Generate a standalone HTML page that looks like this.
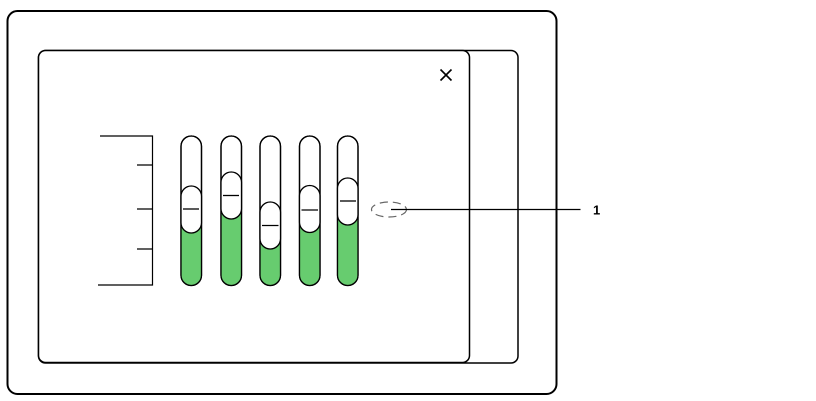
<!DOCTYPE html>
<html><head><meta charset="utf-8"><style>
html,body{margin:0;padding:0;background:#fff;}
svg{display:block;}
</style></head><body>
<svg width="816" height="401" viewBox="0 0 816 401" xmlns="http://www.w3.org/2000/svg">
<rect x="7.5" y="11" width="549" height="383" rx="10" fill="#fff" stroke="#000" stroke-width="2"/>
<rect x="38.5" y="50.5" width="479.5" height="312.5" rx="7" fill="#fff" stroke="#000" stroke-width="1.5"/>
<rect x="38.5" y="50.5" width="431" height="312" rx="7" fill="#fff" stroke="#000" stroke-width="1.5"/>
<path d="M440.5 69.5 L451.5 80.5 M451.5 69.5 L440.5 80.5" stroke="#000" stroke-width="1.6"/>
<g stroke="#000" stroke-width="1.2" fill="none">
<path d="M100 136 H152.5 V285 H98"/>
<path d="M137 165 H152.5 M137 209 H152.5 M137 249 H152.5"/>
</g>
<defs>
<clipPath id="c1"><rect x="181" y="136" width="20.5" height="149.5" rx="10.25"/></clipPath>
<clipPath id="c2"><rect x="221" y="136" width="20.5" height="149.5" rx="10.25"/></clipPath>
<clipPath id="c3"><rect x="260" y="136" width="20.5" height="149.5" rx="10.25"/></clipPath>
<clipPath id="c4"><rect x="299.5" y="136" width="20.5" height="149.5" rx="10.25"/></clipPath>
<clipPath id="c5"><rect x="337.5" y="136" width="20.5" height="149.5" rx="10.25"/></clipPath>
</defs>
<g stroke="#000" stroke-width="1.3">
<rect x="181" y="136" width="20.5" height="149.5" rx="10.25" fill="#fff"/>
<rect x="181" y="222" width="20.5" height="70" fill="#67cc6f" stroke="none" clip-path="url(#c1)"/>
<rect x="181" y="136" width="20.5" height="149.5" rx="10.25" fill="none"/>
<rect x="181" y="186" width="20.5" height="47" rx="10.25" fill="#fff"/>
<line x1="183" y1="209" x2="199" y2="209"/>

<rect x="221" y="136" width="20.5" height="149.5" rx="10.25" fill="#fff"/>
<rect x="221" y="208" width="20.5" height="80" fill="#67cc6f" stroke="none" clip-path="url(#c2)"/>
<rect x="221" y="136" width="20.5" height="149.5" rx="10.25" fill="none"/>
<rect x="221" y="172" width="20.5" height="47" rx="10.25" fill="#fff"/>
<line x1="223" y1="195.5" x2="239" y2="195.5"/>

<rect x="260" y="136" width="20.5" height="149.5" rx="10.25" fill="#fff"/>
<rect x="260" y="238" width="20.5" height="60" fill="#67cc6f" stroke="none" clip-path="url(#c3)"/>
<rect x="260" y="136" width="20.5" height="149.5" rx="10.25" fill="none"/>
<rect x="260" y="202" width="20.5" height="47" rx="10.25" fill="#fff"/>
<line x1="262" y1="225.5" x2="278.5" y2="225.5"/>

<rect x="299.5" y="136" width="20.5" height="149.5" rx="10.25" fill="#fff"/>
<rect x="299.5" y="222" width="20.5" height="70" fill="#67cc6f" stroke="none" clip-path="url(#c4)"/>
<rect x="299.5" y="136" width="20.5" height="149.5" rx="10.25" fill="none"/>
<rect x="299.5" y="185.5" width="20.5" height="47" rx="10.25" fill="#fff"/>
<line x1="301.5" y1="210" x2="318" y2="210"/>

<rect x="337.5" y="136" width="20.5" height="149.5" rx="10.25" fill="#fff"/>
<rect x="337.5" y="214" width="20.5" height="80" fill="#67cc6f" stroke="none" clip-path="url(#c5)"/>
<rect x="337.5" y="136" width="20.5" height="149.5" rx="10.25" fill="none"/>
<rect x="337.5" y="178" width="20.5" height="47" rx="10.25" fill="#fff"/>
<line x1="340" y1="201" x2="356" y2="201"/>
</g>
<ellipse cx="389" cy="209.5" rx="17.5" ry="7.5" fill="none" stroke="#666" stroke-width="1.2" stroke-dasharray="8,5"/>
<line x1="391" y1="209.5" x2="580.5" y2="209.5" stroke="#000" stroke-width="1.2"/>
<text x="593" y="214.5" font-family="Liberation Sans, Arial, sans-serif" font-size="13" font-weight="bold" fill="#000">1</text>
</svg>
</body></html>
